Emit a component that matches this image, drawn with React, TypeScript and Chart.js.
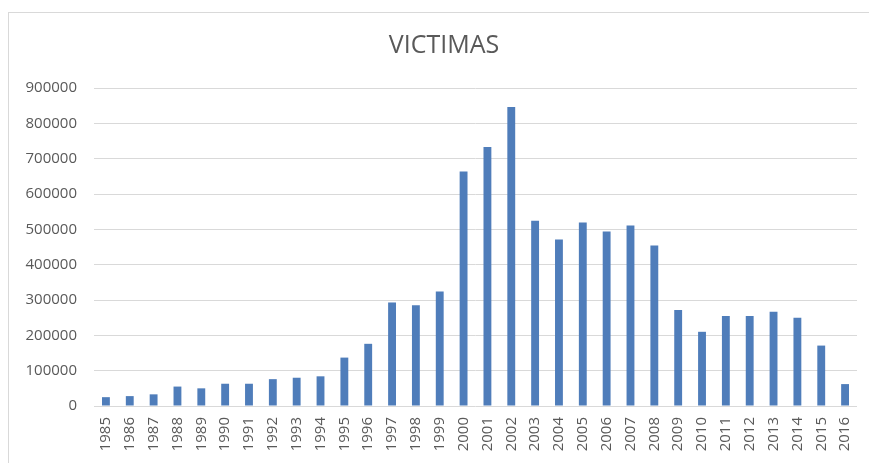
import { useEffect, useRef } from "react";
import { Chart, registerables } from "chart.js";

Chart.register(...registerables);

const years = [
  "1985", "1986", "1987", "1988", "1989", "1990", "1991", "1992", "1993", "1994",
  "1995", "1996", "1997", "1998", "1999", "2000", "2001", "2002", "2003", "2004",
  "2005", "2006", "2007", "2008", "2009", "2010", "2011", "2012", "2013", "2014",
  "2015", "2016",
];

const victimas = [
  25000, 28000, 33000, 55000, 50000, 63000, 63000, 76000, 80000, 84000,
  137000, 176000, 293000, 285000, 324000, 664000, 733000, 846000, 524000, 471000,
  519000, 494000, 511000, 454000, 272000, 210000, 255000, 255000, 267000, 250000,
  171000, 62000,
];

const titleText = "VICTIMAS";
const yMax = 900000;
const yStep = 100000;

const textColor = "#595959";
const gridColor = "#d9d9d9";
const barColor = "#4f7dba";
const fontFamily = "'Open Sans', 'DejaVu Sans', sans-serif";

// Draws the chart heading centred above the plot.
const headingPlugin = {
  id: "heading",
  afterDraw(chart: Chart) {
    const ctx = chart.ctx;
    ctx.save();
    ctx.fillStyle = textColor;
    ctx.font = `25px ${fontFamily}`;
    ctx.textAlign = "center";
    ctx.textBaseline = "middle";
    ctx.fillText(titleText, 444, 46);
    ctx.restore();
  },
};

export default function App() {
  const canvasRef = useRef<HTMLCanvasElement | null>(null);

  useEffect(() => {
    if (!canvasRef.current) return;
    const chart = new Chart(canvasRef.current, {
      type: "bar",
      data: {
        labels: years,
        datasets: [
          {
            label: titleText,
            data: victimas,
            backgroundColor: barColor,
            barPercentage: 0.33,
            categoryPercentage: 1,
          },
        ],
      },
      options: {
        animation: false,
        responsive: false,
        maintainAspectRatio: false,
        layout: { padding: { top: 88, right: 12, bottom: 0, left: 0 } },
        plugins: {
          legend: { display: false },
          title: { display: false },
          tooltip: { enabled: false },
        },
        scales: {
          x: {
            grid: { display: false, drawTicks: false },
            border: { display: false },
            ticks: {
              color: textColor,
              font: { family: fontFamily, size: 15 },
              minRotation: 90,
              maxRotation: 90,
              autoSkip: false,
              padding: 11,
            },
            afterFit(scale: any) {
              scale.height = 57;
              scale.paddingLeft = 0;
              scale.paddingRight = 0;
            },
          },
          y: {
            min: 0,
            max: yMax,
            grid: { color: gridColor, lineWidth: 1, drawTicks: false },
            border: { display: false },
            ticks: {
              stepSize: yStep,
              color: textColor,
              font: { family: fontFamily, size: 15 },
              padding: 17,
              callback: (v: any) => String(v),
            },
            afterFit(scale: any) {
              scale.width = 94;
            },
          },
        },
      },
      plugins: [headingPlugin],
    });
    return () => chart.destroy();
  }, []);

  return (
    <div
      style={{
        position: "fixed",
        left: 0,
        top: 0,
        width: 869,
        height: 463,
        background: "#ffffff",
        overflow: "hidden",
      }}
    >
      <div
        style={{
          position: "absolute",
          left: 8,
          top: 12,
          right: 0,
          bottom: 0,
          borderLeft: `1px solid ${gridColor}`,
          borderTop: `1px solid ${gridColor}`,
        }}
      />
      <canvas
        ref={canvasRef}
        width={869}
        height={463}
        style={{ position: "absolute", left: 0, top: 0, width: 869, height: 463 }}
      />
    </div>
  );
}
